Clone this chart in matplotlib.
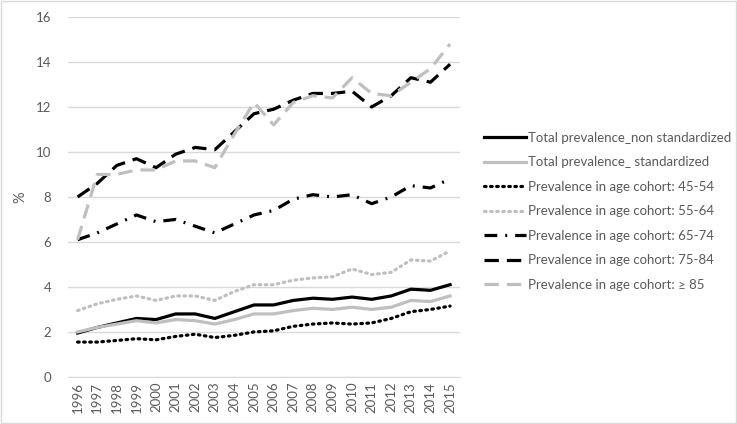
import matplotlib.pyplot as plt
from matplotlib.patches import Rectangle

years = [str(y) for y in range(1996, 2016)]

total_non_std = [1.95, 2.2, 2.4, 2.6, 2.55, 2.8, 2.8, 2.6, 2.9, 3.2,
                 3.2, 3.4, 3.5, 3.45, 3.55, 3.45, 3.6, 3.9, 3.85, 4.1]
total_std = [2.0, 2.2, 2.35, 2.5, 2.4, 2.55, 2.5, 2.35, 2.55, 2.8,
             2.8, 2.95, 3.05, 3.0, 3.1, 3.0, 3.1, 3.4, 3.35, 3.6]
age_45_54 = [1.55, 1.55, 1.62, 1.7, 1.65, 1.8, 1.9, 1.75, 1.85, 2.0,
             2.05, 2.25, 2.35, 2.4, 2.35, 2.4, 2.6, 2.9, 3.0, 3.15]
age_55_64 = [2.95, 3.25, 3.45, 3.6, 3.4, 3.6, 3.6, 3.4, 3.8, 4.1,
             4.1, 4.3, 4.4, 4.45, 4.8, 4.55, 4.65, 5.2, 5.15, 5.6]
age_65_74 = [6.1, 6.4, 6.8, 7.2, 6.9, 7.0, 6.7, 6.4, 6.8, 7.2,
             7.4, 7.9, 8.1, 8.0, 8.1, 7.7, 8.0, 8.5, 8.4, 8.8]
age_75_84 = [8.0, 8.6, 9.4, 9.7, 9.3, 9.9, 10.2, 10.1, 10.9, 11.7,
             11.9, 12.3, 12.6, 12.6, 12.7, 12.0, 12.5, 13.3, 13.1, 13.9]
age_85 = [6.1, 9.0, 9.0, 9.2, 9.2, 9.6, 9.6, 9.3, 10.8, 12.2,
          11.2, 12.2, 12.5, 12.4, 13.3, 12.6, 12.5, 13.1, 13.7, 14.8]

plt.rcParams['font.family'] = ['Lato', 'DejaVu Sans']

fig = plt.figure(figsize=(7.37, 4.24), dpi=100)
ax = fig.add_axes([0.092, 0.111, 0.532, 0.849])
fig.patches.append(Rectangle((0.002, 0.003), 0.996, 0.994, transform=fig.transFigure,
                             fill=False, edgecolor='#d9d9d9', linewidth=1))

x = range(len(years))
black = '#000000'
gray = '#bfbfbf'
lw = 2.3
dotted = (0, (0.5, 1.4))
series = [
    (total_non_std, black, '-', 'Total prevalence_non standardized'),
    (total_std, gray, '-', 'Total prevalence_ standardized'),
    (age_45_54, black, dotted, 'Prevalence in age cohort: 45-54'),
    (age_55_64, gray, dotted, 'Prevalence in age cohort: 55-64'),
    (age_65_74, black, (0, (4, 2.5, 0.6, 2.5)), 'Prevalence in age cohort: 65-74'),
    (age_75_84, black, (0, (4.5, 2.5)), 'Prevalence in age cohort: 75-84'),
    (age_85, gray, (0, (4.5, 2.5)), 'Prevalence in age cohort: \u2265 85'),
]
for vals, col, ls, lab in series:
    cap = 'round' if ls == dotted else 'butt'
    ax.plot(x, vals, color=col, linestyle=ls, linewidth=lw, label=lab,
            dash_capstyle=cap)

ax.set_xlim(-0.5, len(years) - 0.5)
ax.set_ylim(0, 16)
ax.set_yticks(range(0, 17, 2))
ax.set_xticks(list(x))
ax.set_xticklabels(years, rotation=90)
ax.tick_params(axis='both', colors='#595959', labelsize=9.5, length=0)
ax.tick_params(axis='y', pad=12)
ax.grid(axis='y', color='#d9d9d9', linewidth=1)
ax.set_axisbelow(True)
for s in ['top', 'right', 'left']:
    ax.spines[s].set_visible(False)
ax.spines['bottom'].set_color('#d9d9d9')
ax.set_ylabel('%', color='#595959', fontsize=10.5, labelpad=6)

ax.legend(loc='center left', bbox_to_anchor=(1.03, 0.46), frameon=False,
          fontsize=9.5, handlelength=3.2, handletextpad=0.2, labelspacing=0.95,
          labelcolor='#595959')

fig.savefig('out.png', dpi=100)
